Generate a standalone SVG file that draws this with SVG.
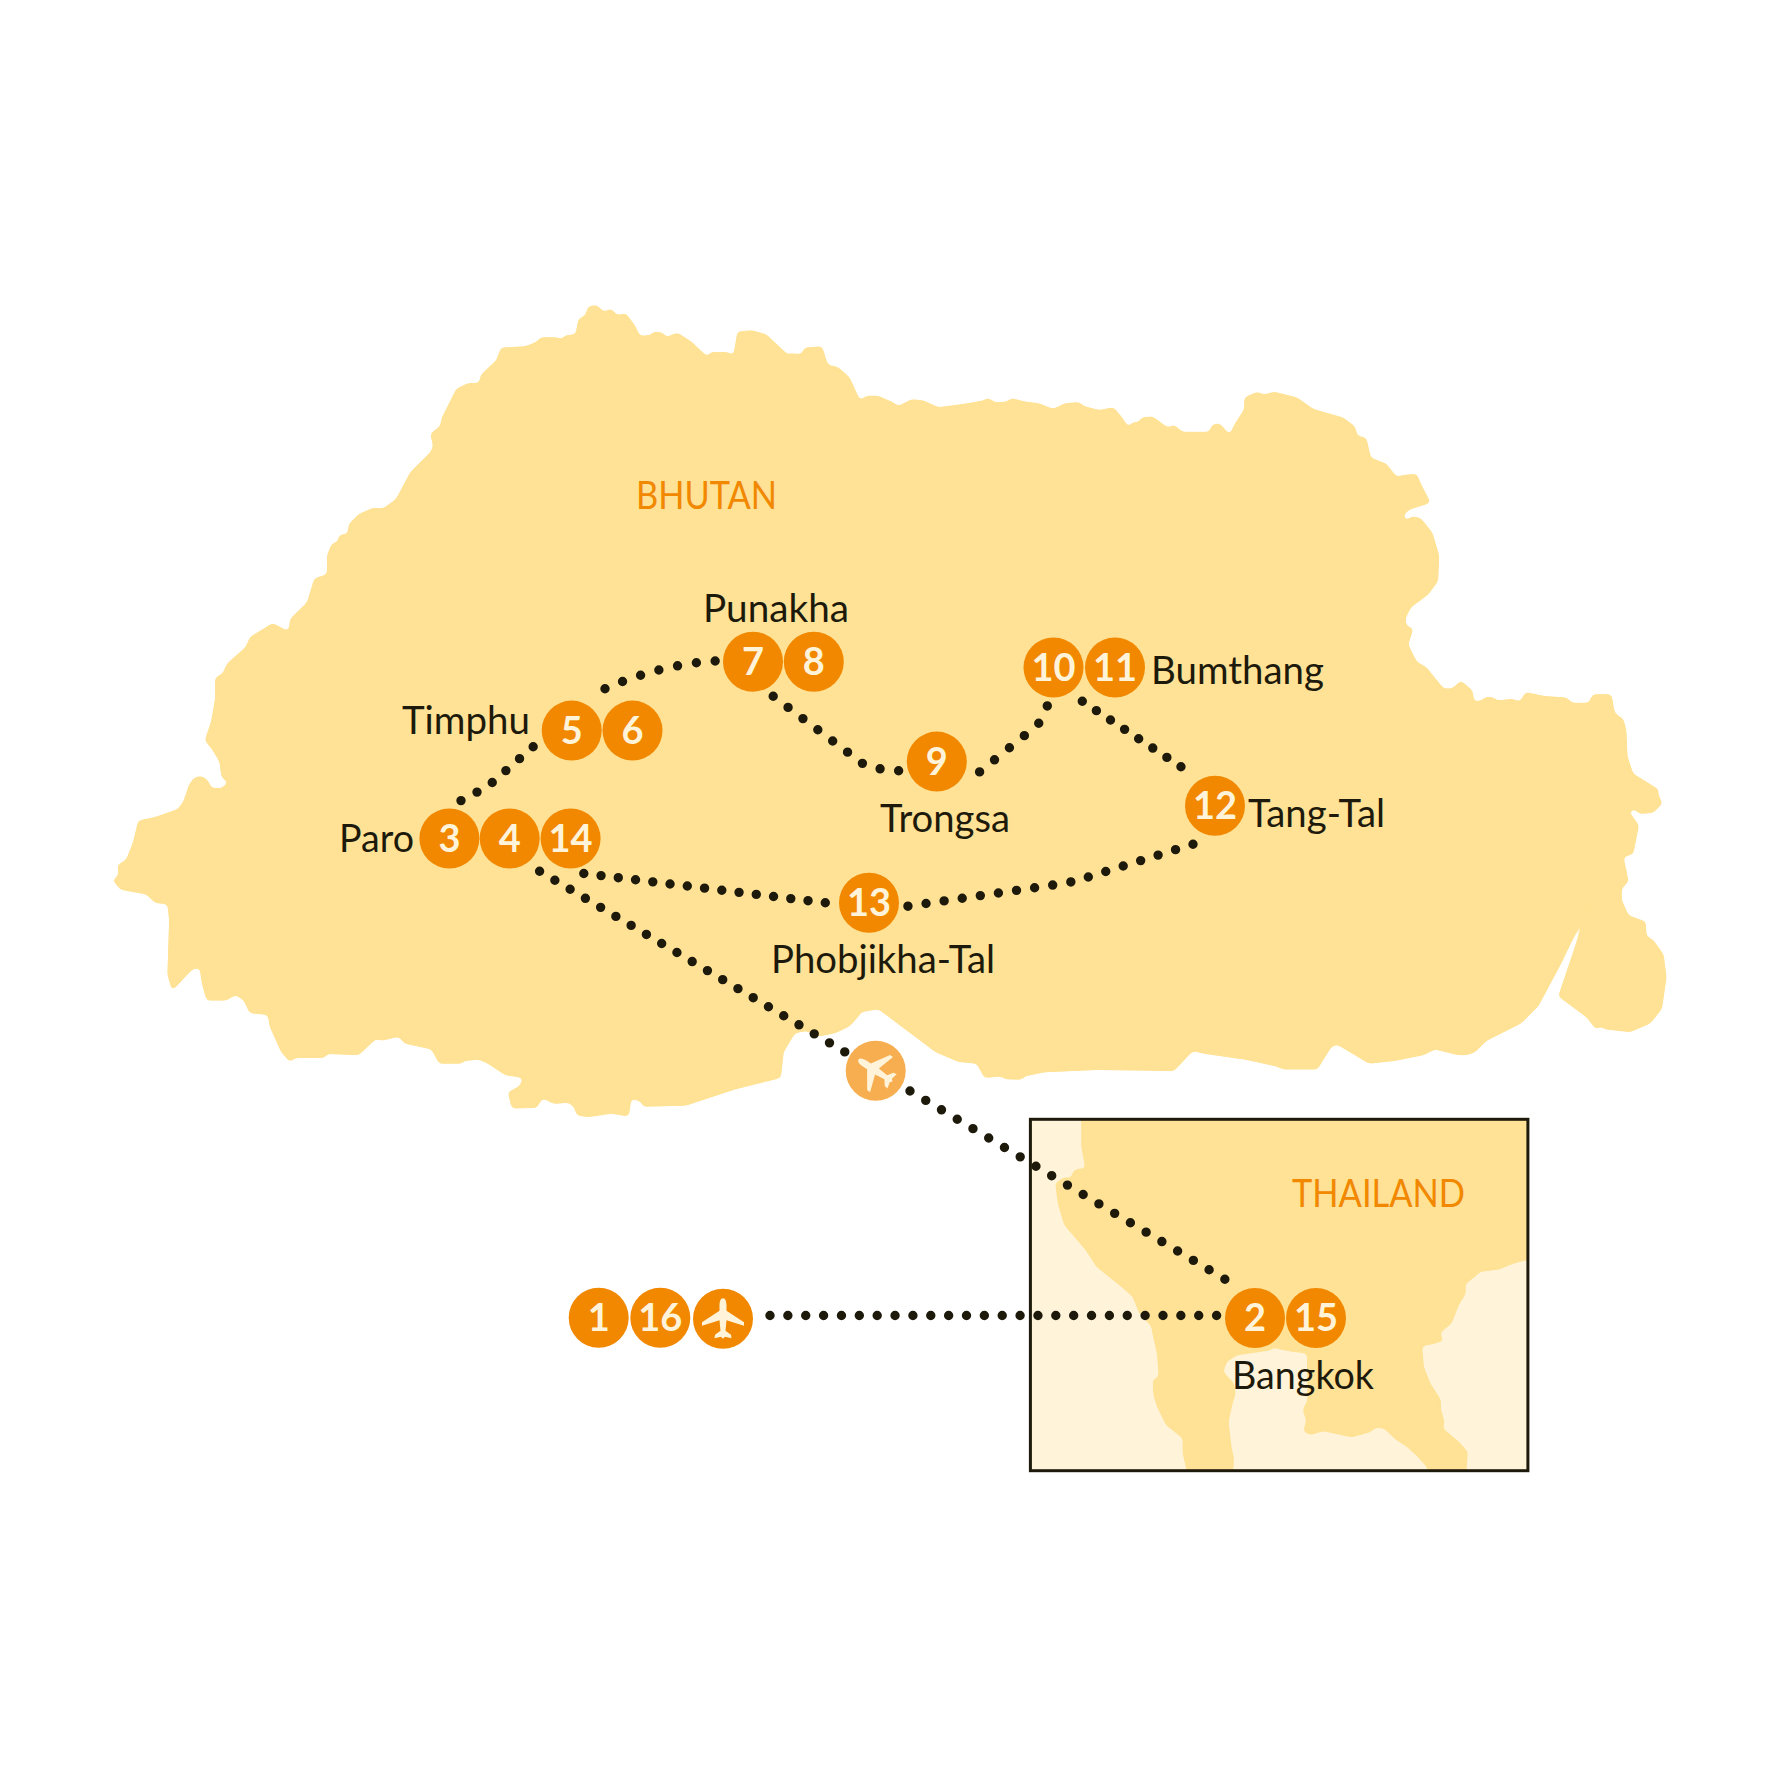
<svg xmlns="http://www.w3.org/2000/svg" xmlns:xlink="http://www.w3.org/1999/xlink" width="1778" height="1778" viewBox="0 0 1778 1778">
<style>
.land{fill:#ffe295;stroke:#ffe295;stroke-width:1;stroke-linejoin:round}
.sea{fill:#fff4d9}
.frame{fill:none;stroke:#1d1a0b;stroke-width:3}
.dots{fill:none;stroke:#1d1a0b;stroke-width:9.4;stroke-linecap:round;stroke-dasharray:0 .9995}
.stop{fill:#f18800}
.stop-light{fill:#f7ae50}
.num{font-family:Lato,"Noto Sans",sans-serif;font-size:38px;font-weight:700;fill:#fff4d9;text-anchor:middle}
.icon{fill:#fff4d9}
.place{font-family:Lato,"Noto Sans",sans-serif;font-size:39px;fill:#1d1a0b}
.country{font-family:Lato,"Noto Sans",sans-serif;font-size:39px;fill:#f18800}
</style>
<defs>
<path id="plane" d="M0 -20.5C2.5 -20.5 3.5 -17 3.5 -13L3.5 -8L21 3.5L21 7L3.5 1.5L2.5 12L8 16L8.5 19.5L2 18L0 20L-2 18L-8.5 19.5L-8 16L-2.5 12L-3.5 1.5L-21 7L-21 3.5L-3.5 -8L-3.5 -13C-3.5 -17 -2.5 -20.5 0 -20.5Z"/>
<filter id="soft" x="0" y="0" width="1778" height="1778" filterUnits="userSpaceOnUse" color-interpolation-filters="sRGB">
<feGaussianBlur in="SourceGraphic" stdDeviation="2.2"/>
<feComponentTransfer><feFuncA type="linear" slope="7" intercept="-3"/></feComponentTransfer>
</filter>
<clipPath id="inset-clip"><rect x="1030.4" y="1119.3" width="497.5" height="351.4"/></clipPath>
</defs>
<rect width="1778" height="1778" fill="#ffffff"/>
<g id="bhutan" filter="url(#soft)">
<polygon class="land" transform="translate(0 280) scale(.574)" points="196,1045 205,1040 207,1028 204,1020 220,1010 232,980 241,942 270,936 310,922 320,908 330,878 340,866 353,865 362,872 368,885 385,886 398,876 386,866 383,840 370,818 357,802 368,770 375,730 375,693 388,686 396,668 428,640 436,622 475,598 498,610 503,612 506,590 535,562 548,520 570,513 570,480 578,460 590,455 590,445 606,442 608,425 625,408 650,397 668,398 690,382 715,335 750,300 755,290 750,268 767,255 770,240 795,190 815,180 835,180 838,165 865,140 873,118 915,116 935,108 942,100 970,100 980,104 983,97 1003,95 1008,68 1020,62 1025,46 1040,44 1052,56 1065,50 1075,62 1090,58 1105,78 1115,98 1135,96 1138,90 1155,92 1160,100 1180,92 1205,108 1228,130 1235,134 1237,126 1268,126 1278,132 1285,90 1310,88 1335,95 1372,130 1380,128 1396,130 1402,118 1432,116 1442,148 1460,152 1480,170 1498,210 1510,202 1530,202 1555,213 1565,220 1588,208 1608,210 1635,222 1680,216 1715,210 1720,205 1735,214 1755,212 1762,206 1785,212 1810,215 1835,225 1855,215 1880,213 1888,220 1915,227 1940,222 1955,240 1966,257 1973,248 1985,248 1988,240 2008,238 2035,258 2045,252 2060,265 2107,265 2112,252 2125,250 2142,270 2152,250 2168,225 2168,205 2190,195 2202,200 2220,195 2260,205 2288,225 2340,240 2360,255 2365,272 2380,275 2388,310 2415,320 2433,343 2445,340 2468,338 2475,355 2492,388 2455,400 2445,410 2448,420 2460,412 2475,415 2495,440 2507,480 2505,525 2488,548 2458,570 2448,590 2450,603 2462,607 2453,635 2468,665 2485,675 2515,712 2530,712 2545,698 2565,715 2568,735 2580,733 2590,726 2603,728 2608,733 2635,730 2648,735 2658,718 2690,725 2730,728 2738,737 2768,737 2775,722 2807,722 2813,755 2828,765 2833,785 2835,830 2845,860 2890,888 2888,895 2896,912 2880,928 2855,930 2850,922 2837,925 2855,950 2845,1000 2828,1005 2837,1048 2825,1060 2825,1080 2837,1107 2867,1118 2868,1143 2880,1150 2898,1175 2903,1215 2895,1270 2875,1295 2840,1310 2795,1305 2790,1300 2780,1305 2765,1285 2715,1248 2770,1085 2720,1190 2680,1265 2650,1295 2590,1325 2570,1345 2555,1350 2540,1350 2500,1340 2480,1350 2430,1360 2385,1365 2330,1332 2320,1335 2295,1375 2235,1375 2225,1370 2170,1358 2100,1348 2078,1343 2045,1378 2000,1377 1910,1376 1820,1380 1785,1387 1780,1393 1750,1392 1745,1387 1715,1390 1702,1365 1670,1362 1630,1345 1590,1315 1550,1285 1530,1270 1490,1277 1500,1278 1480,1300 1455,1312 1425,1318 1405,1308 1385,1312 1365,1345 1360,1390 1280,1410 1195,1438 1120,1440 1118,1432 1100,1425 1095,1457 1065,1452 1025,1458 1005,1455 1000,1440 990,1433 965,1435 945,1425 935,1442 892,1443 885,1415 905,1405 912,1390 880,1385 850,1365 835,1358 808,1360 805,1365 765,1365 752,1340 705,1330 695,1318 665,1325 655,1322 625,1350 570,1348 565,1355 515,1355 505,1362 490,1345 470,1300 467,1280 435,1277 425,1255 410,1245 395,1255 360,1255 352,1225 348,1198 336,1200 300,1238 292,1210 295,1115 292,1087 270,1085 255,1070 210,1062"/>
</g>
<g id="inset">
<rect class="sea" x="1030.4" y="1119.3" width="497.5" height="351.4"/>
<g clip-path="url(#inset-clip)"><g filter="url(#soft)">
<polygon class="land" transform="translate(1000 1100) scale(.357 .3333)" points="228,40 1500,40 1500,474 1440,490 1415,500 1400,508 1345,515 1325,535 1303,552 1305,580 1285,615 1265,670 1232,700 1243,722 1210,733 1182,737 1187,800 1205,850 1235,900 1235,930 1245,965 1240,985 1285,1025 1310,1055 1305,1130 1205,1130 1195,1100 1170,1070 1140,1040 1110,1020 1075,985 1050,983 1040,995 985,1012 905,993 870,1005 850,995 858,960 848,930 862,900 860,760 820,755 770,745 765,735 762,750 700,760 665,765 635,785 625,815 655,850 660,880 650,915 640,965 648,1040 655,1075 652,1130 527,1130 512,1060 512,1015 465,975 440,920 430,885 428,840 445,830 440,760 427,700 425,680 390,640 372,590 340,560 305,530 270,500 240,450 180,375 162,310 155,250 180,232 200,235 205,212 225,205 240,210 228,140"/>
</g></g>
<rect class="frame" x="1030.4" y="1119.3" width="497.5" height="351.4"/>
</g>
<g id="connectors">
<path class="dots" pathLength="5" d="M461 800.6L487.9 786.3L533.2 746.7"/>
<path class="dots" pathLength="6" d="M605 688.7C640 673 680 663 715.2 661"/>
<path class="dots" pathLength="8" d="M773.2 696.2L863.3 764Q878 770 898.7 770.8"/>
<path class="dots" pathLength="5" d="M979.6 771.9L1037.6 724.9Q1043 717 1047.3 705.9"/>
<path class="dots" pathLength="7" d="M1082.3 701.3L1181 766.8"/>
<path class="dots" pathLength="16" d="M1193 844.2L1085 878Q1073 882 1060 884L907.8 906.2"/>
<path class="dots" pathLength="14" d="M583.8 873.5L825.4 902.8"/>
<path class="dots" pathLength="20" d="M539.6 871.2L844.9 1052"/>
<path class="dots" pathLength="20" d="M910 1091L1225 1279.3"/>
<path class="dots" pathLength="25" d="M770 1315.5L1216.8 1315.5"/>
</g>
<g id="stop-1"><circle class="stop" cx="598.7" cy="1317.7" r="30"/><text class="num" x="598.7" y="1331">1</text></g>
<g id="stop-16"><circle class="stop" cx="660.3" cy="1317.7" r="30"/><text class="num" x="660.3" y="1331">16</text></g>
<g id="plane-departure"><circle class="stop" cx="723" cy="1318.7" r="30"/><use class="icon" href="#plane" x="723" y="1318.7"/></g>
<g id="stop-2"><circle class="stop" cx="1255" cy="1318" r="30"/><text class="num" x="1255" y="1331">2</text></g>
<g id="stop-15"><circle class="stop" cx="1316" cy="1318" r="30"/><text class="num" x="1316" y="1331">15</text></g>
<g id="stop-3"><circle class="stop" cx="449.4" cy="838.5" r="30"/><text class="num" x="449.4" y="851.5">3</text></g>
<g id="stop-4"><circle class="stop" cx="509.7" cy="838.5" r="30"/><text class="num" x="509.7" y="851.5">4</text></g>
<g id="stop-14"><circle class="stop" cx="570.6" cy="838.5" r="30"/><text class="num" x="570.6" y="851.5">14</text></g>
<g id="stop-5"><circle class="stop" cx="571.7" cy="730.6" r="30"/><text class="num" x="571.7" y="743.6">5</text></g>
<g id="stop-6"><circle class="stop" cx="632.5" cy="730.6" r="30"/><text class="num" x="632.5" y="743.6">6</text></g>
<g id="stop-7"><circle class="stop" cx="753" cy="661.7" r="30"/><text class="num" x="753" y="674.7">7</text></g>
<g id="stop-8"><circle class="stop" cx="813.8" cy="661.7" r="30"/><text class="num" x="813.8" y="674.7">8</text></g>
<g id="stop-9"><circle class="stop" cx="936.8" cy="761.6" r="30"/><text class="num" x="936.8" y="774.6">9</text></g>
<g id="stop-10"><circle class="stop" cx="1053.5" cy="667.5" r="30"/><text class="num" x="1053.5" y="680.5">10</text></g>
<g id="stop-11"><circle class="stop" cx="1115" cy="667.5" r="30"/><text class="num" x="1115" y="680.5">11</text></g>
<g id="stop-12"><circle class="stop" cx="1215" cy="805.8" r="30"/><text class="num" x="1215" y="818.8">12</text></g>
<g id="stop-13"><circle class="stop" cx="869" cy="902.8" r="30"/><text class="num" x="869" y="915.8">13</text></g>
<g id="plane-transit"><circle class="stop-light" cx="875.7" cy="1070.7" r="30"/><use class="icon" href="#plane" transform="translate(875.7 1070.7) rotate(-57)"/></g>
<g id="labels">
<text class="country" x="636" y="509" textLength="141" lengthAdjust="spacingAndGlyphs">BHUTAN</text>
<text class="country" x="1292" y="1206.7" textLength="173" lengthAdjust="spacingAndGlyphs">THAILAND</text>
<text class="place" x="703" y="621.5" textLength="146" lengthAdjust="spacingAndGlyphs">Punakha</text>
<text class="place" x="402" y="733.5" textLength="128" lengthAdjust="spacingAndGlyphs">Timphu</text>
<text class="place" x="339" y="852" textLength="75" lengthAdjust="spacingAndGlyphs">Paro</text>
<text class="place" x="880" y="832" textLength="130" lengthAdjust="spacingAndGlyphs">Trongsa</text>
<text class="place" x="1151" y="683.5" textLength="173" lengthAdjust="spacingAndGlyphs">Bumthang</text>
<text class="place" x="1248" y="826.5" textLength="137" lengthAdjust="spacingAndGlyphs">Tang-Tal</text>
<text class="place" x="771" y="973.4" textLength="224" lengthAdjust="spacingAndGlyphs">Phobjikha-Tal</text>
<text class="place" x="1232" y="1389.3" textLength="142" lengthAdjust="spacingAndGlyphs">Bangkok</text>
</g>
</svg>
